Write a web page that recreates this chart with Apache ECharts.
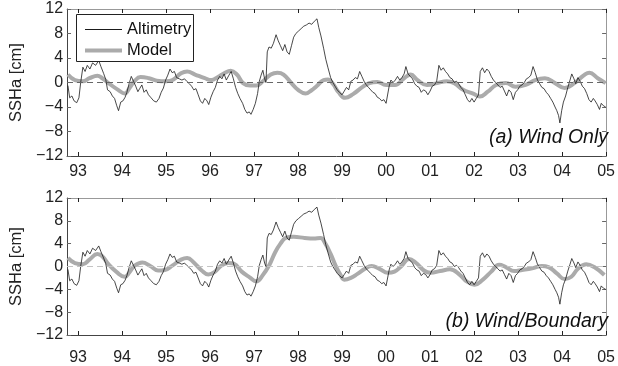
<!DOCTYPE html>
<html><head><meta charset="utf-8">
<script src="https://cdn.jsdelivr.net/npm/echarts@6/dist/echarts.min.js"></script>
<style>html,body{margin:0;padding:0;background:#fff}#c{width:618px;height:366px}</style>
</head><body><div id="c"></div>
<script>
// ---- data ----
const yearTicks = [1993,1994,1995,1996,1997,1998,1999,2000,2001,2002,2003,2004,2005];
const seriesNames = ['Altimetry', 'Model'];
const panelLabels = ['(a) Wind Only', '(b) Wind/Boundary'];
const yAxisName = 'SSHa [cm]';

const altimetry = [
[1992.77,-0.5],[1992.81,-2.5],[1992.86,-2.2],[1992.91,-3.0],[1992.97,-3.3],[1993.02,-2.5],[1993.06,0.0],[1993.11,2.5],
[1993.16,1.8],[1993.21,2.8],[1993.27,2.2],[1993.33,3.2],[1993.40,2.8],[1993.47,3.6],[1993.52,2.6],[1993.58,1.5],
[1993.63,0.5],[1993.67,-1.2],[1993.73,-1.5],[1993.78,-2.2],[1993.83,-2.6],[1993.88,-3.8],[1993.92,-4.6],[1993.97,-3.2],
[1994.02,-3.0],[1994.07,-2.4],[1994.11,-1.6],[1994.16,-0.2],[1994.21,1.0],[1994.26,0.2],[1994.31,-0.6],[1994.36,-1.5],
[1994.40,-1.0],[1994.45,-0.4],[1994.50,-1.6],[1994.55,-1.2],[1994.60,-2.0],[1994.66,-2.5],[1994.72,-3.0],[1994.78,-3.2],
[1994.84,-2.6],[1994.89,-1.6],[1994.94,-0.9],[1994.99,0.4],[1995.04,1.2],[1995.09,2.2],[1995.14,1.6],[1995.19,1.8],
[1995.24,0.8],[1995.30,0.6],[1995.36,0.4],[1995.42,0.6],[1995.47,0.2],[1995.53,-0.2],[1995.58,-0.6],[1995.63,-1.2],
[1995.68,-1.0],[1995.73,-2.0],[1995.78,-3.0],[1995.83,-3.4],[1995.88,-2.6],[1995.93,-3.0],[1995.97,-3.6],[1996.02,-2.4],
[1996.07,-1.5],[1996.12,-0.8],[1996.17,0.4],[1996.22,1.0],[1996.27,0.6],[1996.32,1.4],[1996.37,0.4],[1996.43,1.2],
[1996.48,1.8],[1996.53,0.6],[1996.58,-0.8],[1996.63,-1.8],[1996.68,-2.6],[1996.74,-3.4],[1996.79,-4.4],[1996.84,-5.0],
[1996.89,-4.8],[1996.93,-5.2],[1996.98,-4.4],[1997.03,-3.4],[1997.08,-1.8],[1997.12,0.2],[1997.16,1.2],[1997.20,2.0],
[1997.24,0.6],[1997.27,0.0],[1997.30,5.0],[1997.34,5.8],[1997.39,5.6],[1997.44,6.4],[1997.50,7.8],[1997.55,6.8],
[1997.60,6.0],[1997.65,5.2],[1997.70,6.2],[1997.75,5.0],[1997.80,4.6],[1997.85,6.0],[1997.90,7.4],[1997.95,8.0],
[1998.01,8.4],[1998.07,8.8],[1998.13,9.2],[1998.19,9.4],[1998.25,9.7],[1998.31,9.5],[1998.37,10.0],[1998.43,10.4],
[1998.47,9.0],[1998.52,7.6],[1998.58,5.6],[1998.63,3.8],[1998.68,2.4],[1998.74,0.8],[1998.79,0.0],[1998.84,-0.6],
[1998.89,-1.2],[1998.94,-1.6],[1999.00,-2.0],[1999.05,-1.4],[1999.10,-0.8],[1999.15,-1.2],[1999.20,0.2],[1999.25,0.4],
[1999.30,0.8],[1999.35,0.6],[1999.40,1.8],[1999.45,1.0],[1999.50,0.2],[1999.55,-0.4],[1999.60,-0.8],[1999.65,-1.2],
[1999.70,-1.6],[1999.75,-1.8],[1999.80,-2.4],[1999.85,-2.6],[1999.90,-3.0],[1999.95,-2.8],[2000.00,-3.4],[2000.04,-3.2],
[2000.07,-0.6],[2000.11,0.4],[2000.16,0.0],[2000.21,0.4],[2000.26,1.0],[2000.31,0.4],[2000.36,0.8],[2000.41,1.4],
[2000.45,2.6],[2000.50,1.4],[2000.55,1.0],[2000.60,0.6],[2000.65,-0.2],[2000.70,-0.6],[2000.75,-0.8],[2000.80,-1.6],
[2000.85,-1.2],[2000.90,-1.4],[2000.95,-2.0],[2001.00,-1.4],[2001.05,-0.6],[2001.10,-0.4],[2001.15,0.2],[2001.20,2.8],
[2001.25,2.0],[2001.30,2.4],[2001.35,1.8],[2001.40,1.4],[2001.45,0.8],[2001.50,0.6],[2001.55,0.0],[2001.60,0.2],
[2001.65,-0.2],[2001.70,-0.8],[2001.75,-1.2],[2001.80,-2.0],[2001.85,-2.8],[2001.90,-3.2],[2001.95,-2.6],[2002.00,-3.2],
[2002.05,-2.6],[2002.10,-2.0],[2002.14,1.8],[2002.19,2.4],[2002.24,1.6],[2002.29,2.2],[2002.34,1.8],[2002.39,1.0],
[2002.44,0.4],[2002.49,0.0],[2002.54,-0.4],[2002.59,-0.8],[2002.64,-0.6],[2002.69,-1.4],[2002.74,-2.2],[2002.79,-1.2],
[2002.84,-1.6],[2002.89,-2.8],[2002.94,-1.6],[2002.99,-1.2],[2003.04,-0.6],[2003.09,-0.4],[2003.14,0.0],[2003.19,0.6],
[2003.24,0.8],[2003.29,1.2],[2003.34,2.6],[2003.39,1.6],[2003.44,0.4],[2003.49,-0.2],[2003.54,-0.8],[2003.59,-1.0],
[2003.64,-1.6],[2003.69,-2.0],[2003.74,-2.6],[2003.79,-3.2],[2003.84,-4.0],[2003.88,-4.6],[2003.92,-5.4],[2003.95,-6.6],
[2003.99,-4.6],[2004.03,-3.2],[2004.08,-2.2],[2004.13,-0.8],[2004.18,0.4],[2004.22,1.4],[2004.27,0.6],[2004.31,-0.2],
[2004.36,0.8],[2004.41,0.2],[2004.46,-0.6],[2004.51,-1.0],[2004.56,-1.8],[2004.61,-2.8],[2004.66,-3.2],[2004.71,-2.6],
[2004.75,-3.0],[2004.80,-3.6],[2004.85,-4.4],[2004.89,-3.4],[2004.94,-3.8],[2004.99,-4.0]
];

const modelWindOnly = [
[1992.77,1.3],[1992.93,0.4],[1993.11,0.2],[1993.26,0.7],[1993.44,1.1],[1993.55,0.7],[1993.69,-0.1],[1993.91,-1.2],
[1994.06,-1.8],[1994.17,-0.9],[1994.28,0.2],[1994.42,0.9],[1994.61,0.7],[1994.79,0.3],[1995.01,0.2],[1995.15,0.4],
[1995.34,1.5],[1995.48,1.8],[1995.66,1.3],[1995.88,0.7],[1996.03,0.4],[1996.18,0.9],[1996.32,1.5],[1996.47,1.9],
[1996.61,1.3],[1996.75,-0.1],[1996.91,-0.5],[1997.05,-0.5],[1997.20,0.2],[1997.38,1.3],[1997.53,1.6],[1997.67,1.3],
[1997.85,-0.1],[1998.00,-1.2],[1998.17,-1.8],[1998.30,-1.3],[1998.42,-0.6],[1998.58,0.4],[1998.68,0.5],[1998.80,-0.3],
[1998.92,-1.6],[1999.07,-2.5],[1999.25,-1.9],[1999.45,-0.8],[1999.62,-0.1],[1999.80,0.1],[2000.00,-0.4],[2000.20,-0.4],
[2000.41,0.7],[2000.56,1.3],[2000.71,0.4],[2000.93,-0.4],[2001.16,-0.1],[2001.38,0.2],[2001.55,-0.1],[2001.75,-1.2],
[2001.98,-1.8],[2002.13,-2.3],[2002.31,-1.5],[2002.50,-0.4],[2002.72,-0.1],[2002.94,-0.7],[2003.17,-0.4],[2003.39,0.4],
[2003.61,0.7],[2003.84,-0.1],[2004.06,-0.9],[2004.28,-0.1],[2004.50,1.2],[2004.62,1.6],[2004.81,0.7],[2004.99,-0.1]
];

const modelWindBoundary = [
[1992.77,1.5],[1992.93,0.6],[1993.11,0.4],[1993.26,1.2],[1993.44,2.2],[1993.55,1.8],[1993.69,0.4],[1993.88,-1.0],
[1994.06,-1.8],[1994.17,-1.0],[1994.28,0.1],[1994.46,0.7],[1994.64,0.1],[1994.82,-0.7],[1994.97,-0.6],[1995.15,0.2],
[1995.34,1.2],[1995.48,1.5],[1995.63,0.7],[1995.81,-0.7],[1995.96,-1.4],[1996.10,-1.0],[1996.25,0.1],[1996.42,0.6],
[1996.54,0.5],[1996.72,-0.9],[1996.90,-1.9],[1997.05,-2.6],[1997.20,-1.5],[1997.35,0.3],[1997.48,2.5],[1997.60,4.0],
[1997.72,5.0],[1997.90,5.2],[1998.15,5.0],[1998.35,4.9],[1998.51,5.0],[1998.62,4.0],[1998.74,2.2],[1998.85,0.2],
[1998.96,-1.4],[1999.05,-2.3],[1999.20,-2.0],[1999.35,-1.3],[1999.52,-0.4],[1999.67,0.1],[1999.85,-0.4],[2000.04,-1.1],
[2000.19,-0.9],[2000.34,0.0],[2000.52,1.3],[2000.67,0.7],[2000.86,-0.7],[2001.01,-1.1],[2001.23,-0.8],[2001.45,-0.5],
[2001.68,-1.5],[2001.83,-2.6],[2002.01,-3.2],[2002.20,-2.3],[2002.39,-0.9],[2002.57,0.3],[2002.72,-0.1],[2002.91,-0.8],
[2003.09,-0.6],[2003.32,-0.3],[2003.54,0.1],[2003.69,-0.1],[2003.88,-1.2],[2004.06,-2.2],[2004.21,-1.8],[2004.36,-0.4],
[2004.55,0.4],[2004.73,-0.1],[2004.96,-1.5]
];

// ---- chart ----
const FONT = '"Liberation Sans", Arial, Helvetica, sans-serif';
const X_MIN = 1992.75, X_MAX = 2005;
const ALT_COLOR = '#1a1a1a', MODEL_COLOR = '#ababab';
const grids = [
  {left: 64, right: 6, top: 9, height: 147},
  {left: 64, right: 6, top: 198, height: 145}
];
const yearFmt = v => String(Math.round(v) % 100).padStart(2, '0');
const yFmt = v => v < 0 ? '\u2212' + (-v) : String(v);

function xAxes(gi) {
  const base = {
    type: 'value', gridIndex: gi, min: X_MIN, max: X_MAX,
    splitLine: {show: false}
  };
  return [
    Object.assign({}, base, {
      position: 'bottom',
      axisLine: {onZero: false, lineStyle: {color: '#444', width: 1}},
      axisTick: {inside: true, length: 4, customValues: yearTicks, lineStyle: {color: '#222'}},
      axisLabel: {customValues: yearTicks, formatter: yearFmt, fontFamily: FONT, fontSize: 16, color: '#222', margin: gi === 0 ? 8 : 15, showMaxLabel: true}
    }),
    Object.assign({}, base, {
      position: 'top',
      axisLine: {onZero: false, lineStyle: {color: '#999', width: 1}},
      axisTick: {inside: true, length: 4, customValues: yearTicks, lineStyle: {color: '#222'}},
      axisLabel: {show: false}
    })
  ];
}
function yAxes(gi) {
  const base = {type: 'value', gridIndex: gi, min: -12, max: 12, interval: 4, splitLine: {show: false}};
  return [
    Object.assign({}, base, {
      position: 'left',
      name: yAxisName, nameLocation: 'middle', nameGap: 41,
      nameTextStyle: {fontFamily: FONT, fontSize: 16.5, color: '#222'},
      axisLine: {show: true, onZero: false, lineStyle: {color: '#444', width: 1}},
      axisTick: {show: true, inside: true, length: 4, lineStyle: {color: '#666'}},
      axisLabel: {formatter: yFmt, fontFamily: FONT, fontSize: 16, color: '#222', margin: 4}
    }),
    Object.assign({}, base, {
      position: 'right',
      axisLine: {show: true, onZero: false, lineStyle: {color: '#999', width: 1}},
      axisTick: {show: true, inside: true, length: 4, lineStyle: {color: '#666'}},
      axisLabel: {show: false}
    })
  ];
}

function modelSeries(data, gi, zeroColor) {
  return {
    name: seriesNames[1], type: 'line', xAxisIndex: gi * 2, yAxisIndex: gi * 2,
    data: data, showSymbol: false, symbol: 'none', smooth: 0.45, z: 2,
    lineStyle: {color: MODEL_COLOR, width: 4}, itemStyle: {color: MODEL_COLOR},
    markLine: {
      silent: true, symbol: 'none', label: {show: false}, animation: false,
      lineStyle: {color: zeroColor, width: 1, type: [6, 4]},
      data: [{yAxis: 0}]
    }
  };
}
function altSeries(gi) {
  return {
    name: seriesNames[0], type: 'line', xAxisIndex: gi * 2, yAxisIndex: gi * 2,
    data: altimetry, showSymbol: false, symbol: 'none', z: 3,
    lineStyle: {color: ALT_COLOR, width: 0.8}, itemStyle: {color: ALT_COLOR}
  };
}

function legendRow(name, top, thickness) {
  return {
    left: 85, top: top, orient: 'horizontal', z: 10,
    data: [{name: name, icon: 'rect'}],
    itemWidth: 37, itemHeight: thickness, itemGap: 0,
    padding: 0,
    textStyle: {fontFamily: FONT, fontSize: 16.5, color: '#111', lineHeight: 16},
    selectedMode: false
  };
}

const chart = echarts.init(document.getElementById('c'), null, {renderer: 'canvas'});
chart.setOption({
  animation: false,
  backgroundColor: '#fff',
  grid: grids,
  xAxis: [...xAxes(0), ...xAxes(1)],
  yAxis: [...yAxes(0), ...yAxes(1)],
  legend: [
    legendRow(seriesNames[0], 21, 1.2),
    legendRow(seriesNames[1], 42, 4)
  ],
  graphic: [
    {type: 'rect', z: 8, shape: {x: 76.5, y: 14.5, width: 117, height: 47},
     style: {fill: '#fff', stroke: '#222', lineWidth: 1}},
    {type: 'text', right: 10, top: 128, z: 8, style: {text: panelLabels[0], font: 'italic 19.5px ' + FONT, fill: '#111'}},
    {type: 'text', right: 10, top: 312, z: 8, style: {text: panelLabels[1], font: 'italic 19.5px ' + FONT, fill: '#111'}}
  ],
  series: [
    modelSeries(modelWindOnly, 0, '#666'),
    altSeries(0),
    modelSeries(modelWindBoundary, 1, '#c4c4c4'),
    altSeries(1)
  ]
});
</script></body></html>
